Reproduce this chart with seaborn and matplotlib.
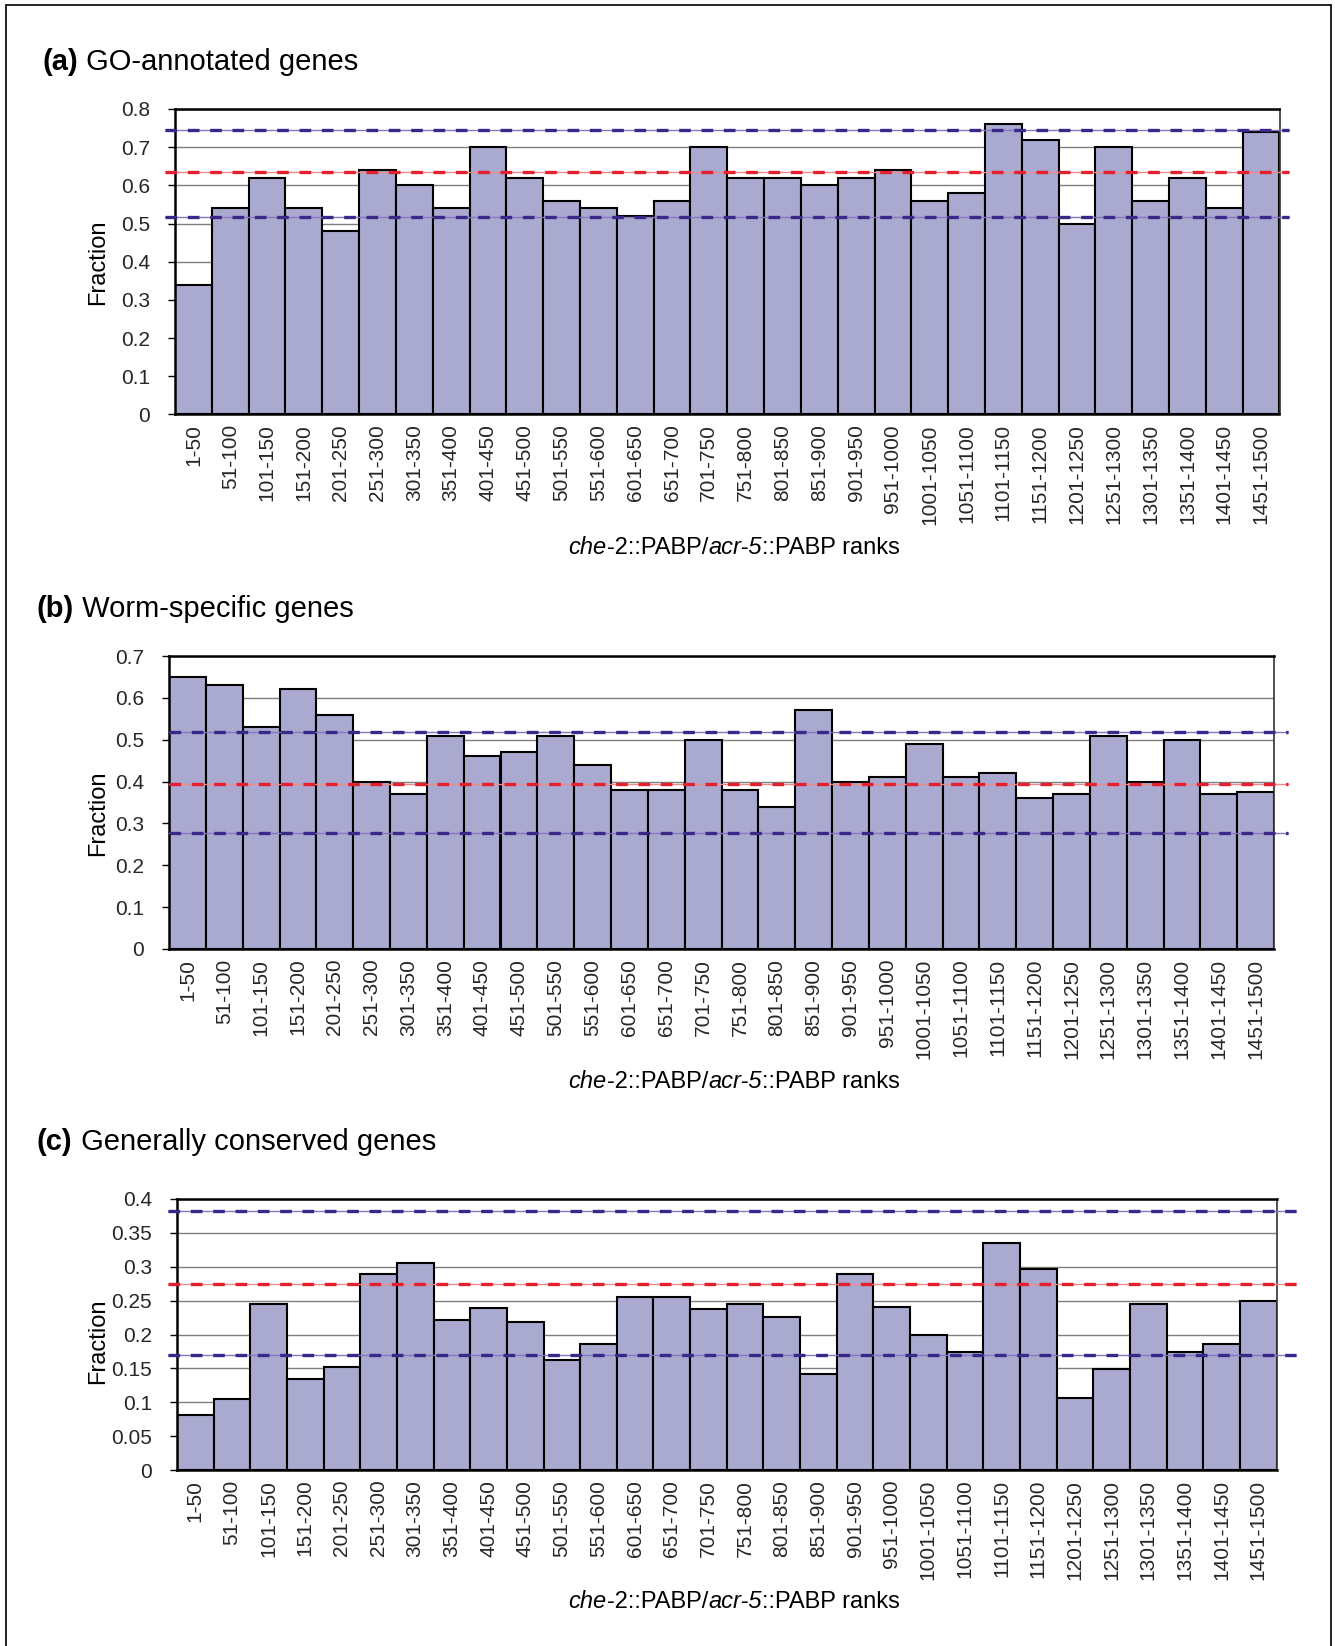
import matplotlib
matplotlib.use("Agg")
import matplotlib.pyplot as plt
import seaborn as sns
import pandas as pd
from matplotlib.offsetbox import TextArea, HPacker, AnnotationBbox

# Rank bins along the x axis
rank_bins = ["1-50", "51-100", "101-150", "151-200", "201-250", "251-300",
             "301-350", "351-400", "401-450", "451-500", "501-550", "551-600",
             "601-650", "651-700", "701-750", "751-800", "801-850", "851-900",
             "901-950", "951-1000", "1001-1050", "1051-1100", "1101-1150",
             "1151-1200", "1201-1250", "1251-1300", "1301-1350", "1351-1400",
             "1401-1450", "1451-1500"]

# Fraction of genes in each bin
go_annotated = [0.34, 0.54, 0.62, 0.54, 0.48, 0.64, 0.60, 0.54, 0.70, 0.62,
                0.56, 0.54, 0.52, 0.56, 0.70, 0.62, 0.62, 0.60, 0.62, 0.64,
                0.56, 0.58, 0.76, 0.72, 0.50, 0.70, 0.56, 0.62, 0.54, 0.74]
worm_specific = [0.65, 0.63, 0.53, 0.62, 0.56, 0.40, 0.37, 0.51, 0.46, 0.47,
                 0.51, 0.44, 0.38, 0.38, 0.50, 0.38, 0.34, 0.57, 0.40, 0.41,
                 0.49, 0.41, 0.42, 0.36, 0.37, 0.51, 0.40, 0.50, 0.37, 0.375]
conserved = [0.081, 0.105, 0.245, 0.134, 0.152, 0.289, 0.305, 0.221, 0.239, 0.218,
             0.163, 0.186, 0.255, 0.255, 0.237, 0.245, 0.226, 0.142, 0.289, 0.240,
             0.200, 0.174, 0.335, 0.297, 0.107, 0.149, 0.245, 0.174, 0.186, 0.250]

# Background level (mean) and upper/lower bounds per gene class
go_bounds = [0.744, 0.634, 0.5175]
worm_bounds = [0.518, 0.394, 0.276]
conserved_bounds = [0.383, 0.2745, 0.170]

y_ticks_a = [0, 0.1, 0.2, 0.3, 0.4, 0.5, 0.6, 0.7, 0.8]
y_ticks_b = [0, 0.1, 0.2, 0.3, 0.4, 0.5, 0.6, 0.7]
y_ticks_c = [0, 0.05, 0.1, 0.15, 0.2, 0.25, 0.3, 0.35, 0.4]

sns.set_theme(style="white")
plt.rcParams["font.family"] = ["Liberation Sans", "DejaVu Sans"]

W, H = 1335, 1646
fig = plt.figure(figsize=(W / 100, H / 100), dpi=100)
fig.patch.set_facecolor("white")

BAR = "#aaa9cf"
TICK_FS = 15
LABEL_FS = 17
TITLE_FS = 21


def fx(px):
    return px / W


def fy(py):
    return 1 - py / H


# outer frame
for xs, ys in [([6, 6], [5, H + 5]), ([6, 1331], [5, 5]), ([1331, 1331], [5, H + 5])]:
    fig.add_artist(plt.Line2D([fx(x) for x in xs], [fy(y) for y in ys],
                              color="black", lw=1.2, transform=fig.transFigure))


def fmt(v):
    return "0" if v == 0 else f"{v:g}"


def panel(box, values, bounds, ticks, title_letter, title_text, title_pos,
          xlabel_y, ylabel_y, line_ext):
    l, t, r, b = box
    ax = fig.add_axes([fx(l), fy(b), fx(r) - fx(l), fy(t) - fy(b)])
    df = pd.DataFrame({"bin": rank_bins, "fraction": values})
    sns.barplot(data=df, x="bin", y="fraction", order=rank_bins, color=BAR,
                saturation=1, width=1.0, edgecolor="black", linewidth=1.5,
                ax=ax, zorder=2)
    ax.set_ylim(ticks[0], ticks[-1])
    ax.set_xlim(-0.5, len(rank_bins) - 0.5)
    ax.set_yticks(ticks)
    ax.set_yticklabels([fmt(v) for v in ticks], fontsize=TICK_FS)
    ax.set_xticks(range(len(rank_bins)))
    ax.set_xticklabels(rank_bins, rotation=90, fontsize=TICK_FS, va="top", ha="center")
    ax.tick_params(axis="x", length=0, pad=7)
    ax.tick_params(axis="y", length=5, width=1, color="black", pad=13, left=True)
    ax.set_xlabel("")
    ax.set_ylabel("")
    ax.set_axisbelow(True)
    ax.yaxis.grid(True, color="#7f7f7f", lw=1.0)
    ax.xaxis.grid(False)
    for side in ["left", "bottom", "top"]:
        ax.spines[side].set_color("black")
        ax.spines[side].set_linewidth(1.8)
    ax.spines["right"].set_color("#333333")
    ax.spines["right"].set_linewidth(1.2)

    x0, x1 = line_ext
    for i, yv in enumerate(bounds):
        if i == 1:
            thin, dash = "#f08890", "#e3202f"
        else:
            thin, dash = "#8577c0", "#3a2888"
        ax.axhline(yv, xmin=x0, xmax=x1, color=thin, lw=1.0, clip_on=False, zorder=4)
        ax.axhline(yv, xmin=x0, xmax=x1, color=dash, lw=2.4, clip_on=False,
                   zorder=5, dashes=(3.5, 3.2))

    # panel title
    tb = HPacker(children=[TextArea(title_letter, textprops=dict(fontsize=TITLE_FS, fontweight="bold", color="black")),
                           TextArea(" " + title_text, textprops=dict(fontsize=TITLE_FS, color="black"))],
                 sep=0, pad=0, align="baseline")
    fig.add_artist(AnnotationBbox(tb, (fx(title_pos[0]), fy(title_pos[1])),
                                  xycoords="figure fraction", frameon=False,
                                  box_alignment=(0, 0.5), pad=0))

    # x-axis label with italic gene names
    xb = HPacker(children=[TextArea("che", textprops=dict(fontsize=LABEL_FS, style="italic", color="black")),
                           TextArea("-2::PABP/", textprops=dict(fontsize=LABEL_FS, color="black")),
                           TextArea("acr-5", textprops=dict(fontsize=LABEL_FS, style="italic", color="black")),
                           TextArea("::PABP ranks", textprops=dict(fontsize=LABEL_FS, color="black"))],
                 sep=0, pad=0, align="baseline")
    fig.add_artist(AnnotationBbox(xb, (fx(734), fy(xlabel_y)),
                                  xycoords="figure fraction", frameon=False,
                                  box_alignment=(0.5, 0.5), pad=0))

    fig.text(fx(98), fy(ylabel_y), "Fraction", rotation=90, fontsize=LABEL_FS,
             ha="center", va="center", color="black")
    return ax


panel((175, 109, 1279.5, 414.5), go_annotated, go_bounds, y_ticks_a,
      "(a)", "GO-annotated genes", (42, 62), 548, 262, (-0.009, 1.0086))
panel((169, 656, 1274, 949), worm_specific, worm_bounds, y_ticks_b,
      "(b)", "Worm-specific genes", (37, 609), 1081, 813, (0.0, 1.0127))
panel((177, 1199, 1276.5, 1470), conserved, conserved_bounds, y_ticks_c,
      "(c)", "Generally conserved genes", (37, 1142), 1601, 1341, (-0.008, 1.0177))

fig.savefig("out.png", dpi=100, facecolor="white")
